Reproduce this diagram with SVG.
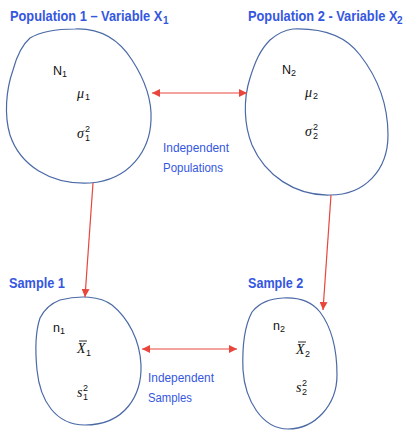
<svg xmlns="http://www.w3.org/2000/svg" width="405" height="430" viewBox="0 0 405 430">
<defs>
<marker id="ah" viewBox="0 0 10 10" refX="10" refY="5" markerWidth="8" markerHeight="8" markerUnits="userSpaceOnUse" orient="auto-start-reverse">
<path d="M0,0 L10,5 L0,10 Z" fill="#e8463c"/>
</marker>
<style>
.blob{fill:none;stroke:#4a69a6;stroke-width:1.2}
.title{font-family:"Liberation Sans",Arial,sans-serif;font-weight:bold;font-size:15px;fill:#3557e0}
.tsub{font-family:"Liberation Sans",Arial,sans-serif;font-weight:bold;font-size:10px;fill:#3557e0}
.note{font-family:"Liberation Sans",Arial,sans-serif;font-size:12.5px;fill:#3557e0}
.lbl{font-family:"Liberation Sans",Arial,sans-serif;font-size:12.5px;fill:#111}
.math{font-family:"Liberation Serif","Times New Roman",serif;font-style:italic;font-size:14px;fill:#111}
.sub{font-family:"Liberation Sans",Arial,sans-serif;font-style:normal;font-size:9px;fill:#111}
.bar{stroke:#111;stroke-width:0.9}
.conn{stroke:#e8463c;stroke-width:1.2;fill:none}
</style>
</defs>
<rect width="405" height="430" fill="#fff"/>

<g id="population1">
<text class="title" transform="translate(10,21) scale(0.855,1)">Population 1 – Variable X</text>
<text class="tsub" x="163" y="24">1</text>
<path class="blob" d="M75,29 C100,28 118,38 132,60 C145,80 152,100 151,120 C150,150 130,180 90,183 C50,185 20,165 10,135 C4,115 6,90 13,70 C17,55 22,45 30,38 C42,31 58,29 75,29 Z"/>
<text class="lbl" x="53" y="75">N</text><text class="sub" x="62" y="77">1</text>
<text class="math" x="77" y="98">μ</text><text class="sub" x="85" y="100">1</text>
<text class="math" x="77" y="138">σ</text><text class="sub" x="85" y="141">1</text><text class="sub" x="85" y="132">2</text>
</g>

<g id="population2">
<text class="title" transform="translate(248,21) scale(0.855,1)">Population 2 - Variable X</text>
<text class="tsub" x="397" y="24">2</text>
<path class="blob" d="M293,29 C320,28 345,35 360,55 C378,78 388,105 388,135 C388,170 365,195 330,195 C295,196 265,175 252,145 C244,125 243,100 250,78 C255,62 260,50 270,40 C278,33 285,30 293,29 Z"/>
<text class="lbl" x="282" y="74">N</text><text class="sub" x="291" y="76">2</text>
<text class="math" x="305" y="97">μ</text><text class="sub" x="313" y="99">2</text>
<text class="math" x="305" y="136">σ</text><text class="sub" x="313" y="139">2</text><text class="sub" x="313" y="130">2</text>
</g>

<g id="sample1">
<text class="title" transform="translate(9,288) scale(0.85,1)">Sample 1</text>
<path class="blob" d="M60,300 C80,295 100,296 112,305 C128,318 140,340 141,365 C142,395 125,425 85,425 C55,425 40,400 37,370 C35,350 36,330 40,318 C45,308 52,303 60,300 Z"/>
<text class="lbl" x="53" y="332">n</text><text class="sub" x="60" y="334">1</text>
<text class="math" x="77" y="353">X</text><line class="bar" x1="79" y1="341" x2="87" y2="341"/><text class="sub" x="86" y="356">1</text>
<text class="math" x="77" y="397">s</text><text class="sub" x="83" y="400">1</text><text class="sub" x="83" y="391">2</text>
</g>

<g id="sample2">
<text class="title" transform="translate(248,288) scale(0.84,1)">Sample 2</text>
<path class="blob" d="M283,298 C300,297 312,302 320,312 C332,328 337,350 337,375 C337,405 315,429 288,429 C262,429 245,400 243,370 C242,345 245,325 252,312 C260,302 270,299 283,298 Z"/>
<text class="lbl" x="273" y="330">n</text><text class="sub" x="280" y="332">2</text>
<text class="math" x="296" y="354">X</text><line class="bar" x1="298" y1="342" x2="306" y2="342"/><text class="sub" x="305" y="357">2</text>
<text class="math" x="296" y="392">s</text><text class="sub" x="302" y="395">2</text><text class="sub" x="302" y="386">2</text>
</g>

<g id="connectors">
<line class="conn" x1="152" y1="93" x2="247" y2="93" marker-start="url(#ah)" marker-end="url(#ah)"/>
<line class="conn" x1="93" y1="183" x2="85" y2="297" marker-end="url(#ah)"/>
<line class="conn" x1="331" y1="195" x2="323" y2="310" marker-end="url(#ah)"/>
<line class="conn" x1="142" y1="349" x2="237" y2="349" marker-start="url(#ah)" marker-end="url(#ah)"/>
</g>

<g id="labels">
<text class="note" x="163" y="152" textLength="66" lengthAdjust="spacingAndGlyphs">Independent</text>
<text class="note" x="163" y="172" textLength="60" lengthAdjust="spacingAndGlyphs">Populations</text>
<text class="note" x="148" y="382" textLength="66" lengthAdjust="spacingAndGlyphs">Independent</text>
<text class="note" x="148" y="402" textLength="44" lengthAdjust="spacingAndGlyphs">Samples</text>
</g>
</svg>
